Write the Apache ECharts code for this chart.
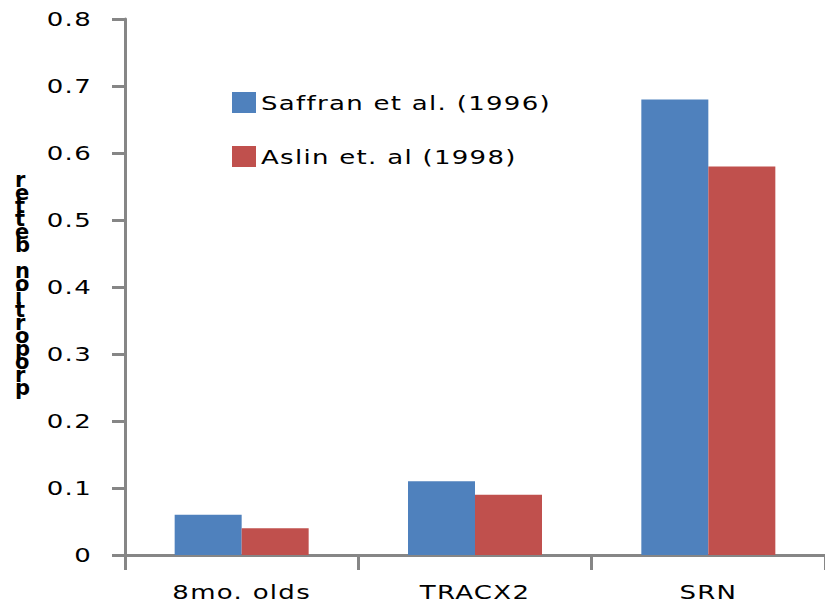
<!DOCTYPE html>
<html>
<head>
<meta charset="utf-8">
<script src="https://cdn.jsdelivr.net/npm/echarts@6/dist/echarts.min.js"></script>
<style>
html,body{margin:0;padding:0;background:#fff}
#c{width:825px;height:614px}
#c svg text{letter-spacing:1px}
#c svg text.ytitle{letter-spacing:0}
</style>
</head>
<body>
<div id="c"></div>
<script>
const categories = ['8mo. olds', 'TRACX2', 'SRN'];
const saffran = [0.06, 0.11, 0.68];
const aslin = [0.04, 0.09, 0.58];
const seriesNames = ['Saffran et al. (1996)', 'Aslin et. al (1998)'];
const yAxisTitleLetters = ['r','e','t','t','e','b','','n','o','i','t','r','o','p','o','r','p'];

const chart = echarts.init(document.getElementById('c'), null, { renderer: 'svg' });
const font = 'DejaVu Sans';
chart.setOption({
  animation: false,
  backgroundColor: '#fff',
  grid: { left: 125, top: 19, width: 705, height: 536, containLabel: false },
  legend: {
    orient: 'vertical', left: 232, top: 92, itemGap: 33, padding: 0,
    itemWidth: 24, itemHeight: 21, icon: 'rect',
    textStyle: { fontFamily: font, fontSize: 20, color: '#000' },
    data: seriesNames
  },
  xAxis: {
    type: 'category', data: categories,
    axisLine: { lineStyle: { color: '#868686', width: 3 } },
    axisTick: { show: true, length: 15, lineStyle: { color: '#868686', width: 3 } },
    axisLabel: { fontFamily: font, fontSize: 20, color: '#000', margin: 27 }
  },
  yAxis: {
    type: 'value', min: 0, max: 0.8, interval: 0.1,
    axisLine: { show: true, lineStyle: { color: '#868686', width: 3 } },
    axisTick: { show: true, length: 13, lineStyle: { color: '#868686', width: 3 } },
    splitLine: { show: false },
    axisLabel: { fontFamily: font, fontSize: 20, color: '#000', margin: 33,
      formatter: v => (Math.round(v*10)/10).toString() }
  },
  graphic: [{
    type: 'text', left: 15, top: 169, id: 'ytitle',
    style: { text: yAxisTitleLetters.join('\n'), font: 'bold 21px ' + font, lineHeight: 13, fill: '#000', align: 'center' }
  }],
  series: [
    { name: seriesNames[0], type: 'bar', data: saffran, barWidth: 67, barGap: '0%',
      itemStyle: { color: '#4F81BD' } },
    { name: seriesNames[1], type: 'bar', data: aslin, barWidth: 67, barGap: '0%',
      itemStyle: { color: '#C0504D' } }
  ]
});

// Reference text is drawn horizontally stretched; widen every label except the stacked y title.
const SX = 1.3;
function stretchTexts() {
  document.querySelectorAll('#c svg text').forEach(t => {
    const st = (t.getAttribute('style') || '') + ' ' + (t.getAttribute('font-weight') || '');
    if (st.indexOf('bold') >= 0) { t.classList.add('ytitle'); return; }
    if (t.getAttribute('data-sx')) return;
    const x = parseFloat(t.getAttribute('x') || '0') || 0;
    const tr = t.getAttribute('transform') || '';
    t.setAttribute('transform', (tr + ' translate(' + x + ' 0) scale(' + SX + ' 1) translate(' + (-x) + ' 0)').trim());
    t.setAttribute('data-sx', '1');
  });
}
chart.getZr().flush();
stretchTexts();
chart.on('finished', stretchTexts);
setTimeout(stretchTexts, 50);
</script>
</body>
</html>
